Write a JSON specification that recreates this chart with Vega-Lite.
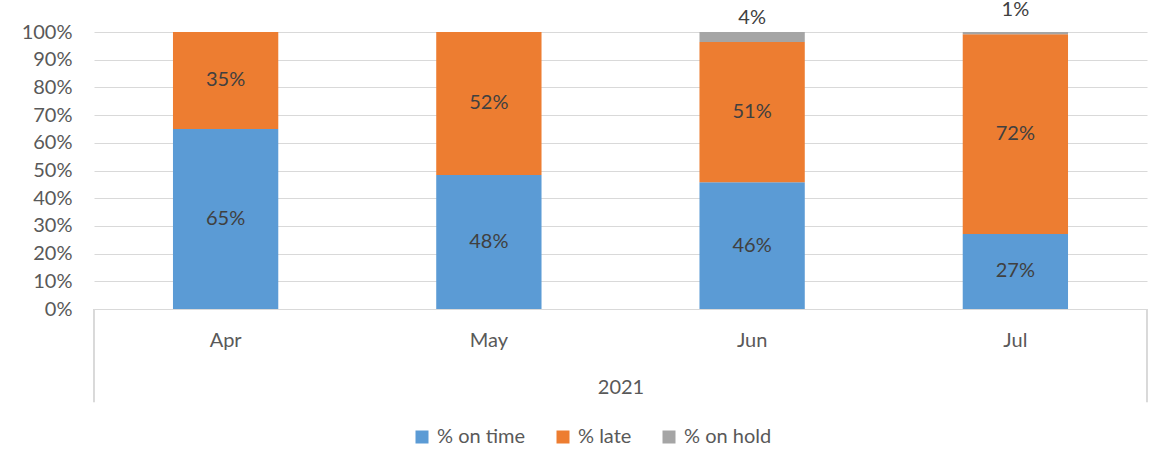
{
  "$schema": "https://vega.github.io/schema/vega-lite/v6.json",
  "width": 1053,
  "height": 277,
  "autosize": "none",
  "padding": {"left": 94, "top": 32, "right": 4, "bottom": 142},
  "background": "white",
  "config": {
    "view": {"stroke": null},
    "font": "Lato",
    "axisY": {
      "domain": false,
      "ticks": false,
      "grid": true,
      "gridColor": "#d9d9d9",
      "gridWidth": 1,
      "labelOverlap": false,
      "labelFont": "Lato",
      "labelFontSize": 20,
      "labelColor": "#595959",
      "labelPadding": 22
    }
  },
  "data": {
    "values": [
      {"month": "Apr", "series": "% on time", "seriesIndex": 1, "value": 0.65},
      {"month": "Apr", "series": "% late", "seriesIndex": 2, "value": 0.35},
      {"month": "May", "series": "% on time", "seriesIndex": 1, "value": 0.484},
      {"month": "May", "series": "% late", "seriesIndex": 2, "value": 0.516},
      {"month": "Jun", "series": "% on time", "seriesIndex": 1, "value": 0.458},
      {"month": "Jun", "series": "% late", "seriesIndex": 2, "value": 0.506},
      {"month": "Jun", "series": "% on hold", "seriesIndex": 3, "value": 0.036},
      {"month": "Jul", "series": "% on time", "seriesIndex": 1, "value": 0.271},
      {"month": "Jul", "series": "% late", "seriesIndex": 2, "value": 0.721},
      {"month": "Jul", "series": "% on hold", "seriesIndex": 3, "value": 0.008}
    ]
  },
  "transform": [
    {"stack": "value", "groupby": ["month"], "sort": [{"field": "seriesIndex", "order": "ascending"}], "as": ["v0", "v1"]},
    {"calculate": "(datum.v0 + datum.v1) / 2", "as": "vmid"}
  ],
  "resolve": {"scale": {"x": "independent"}},
  "layer": [
    {
      "layer": [
        {
          "mark": {"type": "bar"},
          "encoding": {
            "y": {
              "field": "v1",
              "type": "quantitative",
              "scale": {"domain": [0, 1]},
              "axis": {"values": [0, 0.1, 0.2, 0.3, 0.4, 0.5, 0.6, 0.7, 0.8, 0.9, 1], "format": ".0%", "title": null, "labelOverlap": false}
            },
            "y2": {"field": "v0"},
            "color": {
              "field": "series",
              "type": "nominal",
              "scale": {
                "domain": ["% on time", "% late", "% on hold"],
                "range": ["#5B9BD5", "#ED7D31", "#A5A5A5"]
              },
              "legend": {
                "title": null,
                "orient": "none",
                "direction": "horizontal",
                "legendX": 318,
                "legendY": 395,
                "symbolType": "square",
                "symbolSize": 169,
                "symbolStrokeWidth": 0,
                "symbolOpacity": 1,
                "labelFont": "Lato",
                "labelFontSize": 20,
                "labelColor": "#595959",
                "labelOffset": 5,
                "columnPadding": 27
              }
            }
          }
        },
        {
          "transform": [{"filter": "datum.series != '% on hold'"}],
          "mark": {"type": "text", "font": "Lato", "fontSize": 20, "color": "#404040", "baseline": "middle", "align": "center"},
          "encoding": {
            "y": {"field": "vmid", "type": "quantitative", "axis": {"values": [0, 0.1, 0.2, 0.3, 0.4, 0.5, 0.6, 0.7, 0.8, 0.9, 1], "format": ".0%", "title": null, "labelOverlap": false}},
            "text": {"field": "value", "type": "quantitative", "format": ".0%"}
          }
        },
        {
          "transform": [{"filter": "datum.series == '% on hold'"}],
          "mark": {"type": "text", "font": "Lato", "fontSize": 20, "color": "#404040", "baseline": "middle", "align": "center", "dy": -24},
          "encoding": {
            "y": {"field": "v0", "type": "quantitative", "axis": {"values": [0, 0.1, 0.2, 0.3, 0.4, 0.5, 0.6, 0.7, 0.8, 0.9, 1], "format": ".0%", "title": null, "labelOverlap": false}},
            "text": {"field": "value", "type": "quantitative", "format": ".0%"}
          }
        }
      ],
      "encoding": {
        "x": {
          "field": "month",
          "type": "nominal",
          "sort": ["Apr", "May", "Jun", "Jul"],
          "title": "2021",
          "scale": {"paddingInner": 0.6, "paddingOuter": 0.3},
          "axis": {
            "labelAngle": 0,
            "labelFont": "Lato",
            "labelFontSize": 20,
            "labelColor": "#595959",
            "labelPadding": 21,
            "domain": true,
            "domainColor": "#d9d9d9",
            "domainWidth": 1,
            "ticks": false,
            "grid": false,
            "titleFont": "Lato",
            "titleFontSize": 20,
            "titleFontWeight": "normal",
            "titleColor": "#595959",
            "titlePadding": 27
          }
        }
      }
    },
    {
      "mark": {"type": "rule", "color": "#d9d9d9", "strokeWidth": 1},
      "encoding": {
        "x": {"datum": 0, "type": "quantitative", "scale": {"domain": [0, 1], "nice": false, "zero": false}, "axis": null},
        "y": {"datum": 0, "type": "quantitative", "axis": {"values": [0, 0.1, 0.2, 0.3, 0.4, 0.5, 0.6, 0.7, 0.8, 0.9, 1], "format": ".0%", "title": null, "labelOverlap": false}},
        "y2": {"datum": -0.336}
      }
    },
    {
      "mark": {"type": "rule", "color": "#d9d9d9", "strokeWidth": 1},
      "encoding": {
        "x": {"datum": 1, "type": "quantitative", "scale": {"domain": [0, 1], "nice": false, "zero": false}, "axis": null},
        "y": {"datum": 0, "type": "quantitative", "axis": {"values": [0, 0.1, 0.2, 0.3, 0.4, 0.5, 0.6, 0.7, 0.8, 0.9, 1], "format": ".0%", "title": null, "labelOverlap": false}},
        "y2": {"datum": -0.336}
      }
    }
  ]
}
